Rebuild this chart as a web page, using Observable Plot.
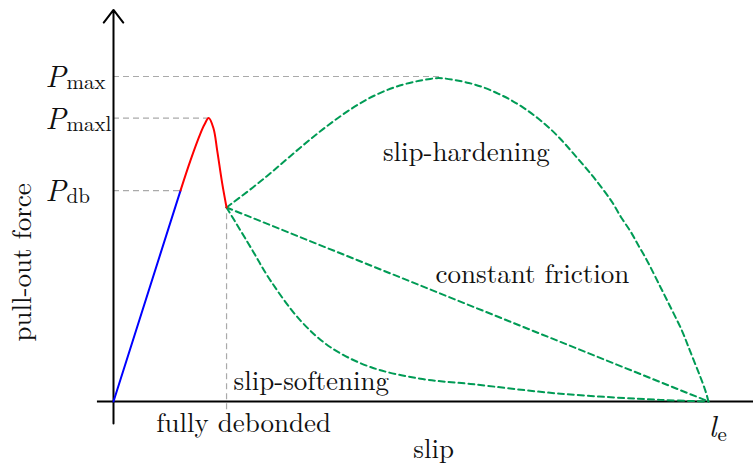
<!DOCTYPE html>
<html>
<head>
<meta charset="utf-8">
<script src="https://cdn.jsdelivr.net/npm/d3@7"></script>
<script src="https://cdn.jsdelivr.net/npm/@observablehq/plot@0.6"></script>
<style>
  html, body { margin: 0; padding: 0; background: #fff; }
  svg { display: block; }
</style>
</head>
<body>
<div id="chart"></div>
<script>
// ---- data (x: slip, y: pull-out force, arbitrary units; le = 10, Pmax = 10) ----
const elasticX = [0, 1.126];
const elasticY = [0, 6.49];

const debondX = [1.126, 1.294, 1.462, 1.529, 1.6, 1.681, 1.743, 1.827, 1.9];
const debondY = [6.49, 7.42, 8.25, 8.52, 8.72, 8.40, 7.72, 6.71, 5.97];

const hardeningX = [1.9, 2.358, 2.723, 3.131, 3.524, 3.938, 4.387, 4.891, 5.383, 5.50, 5.719, 5.971, 6.224, 6.476, 6.701, 6.924, 7.148, 7.345, 7.541, 7.709, 7.904, 8.072, 8.240, 8.408, 8.521, 8.689, 8.802, 8.941, 9.081, 9.193, 9.306, 9.417, 9.558, 9.642, 9.753, 9.866, 9.950, 10];
const hardeningY = [5.97, 6.60, 7.15, 7.806, 8.391, 8.954, 9.446, 9.794, 9.95, 9.96, 9.90, 9.81, 9.671, 9.468, 9.262, 9.006, 8.698, 8.391, 8.031, 7.671, 7.262, 6.902, 6.492, 6.083, 5.671, 5.262, 4.852, 4.440, 3.929, 3.517, 3.108, 2.698, 2.185, 1.775, 1.262, 0.748, 0.338, 0];

const frictionX = [1.9, 10];
const frictionY = [5.97, 0];

const softeningX = [1.9, 2.303, 2.639, 3.143, 3.647, 4.319, 5.160, 6.000, 7.513, 9.193, 10];
const softeningY = [5.97, 4.75, 3.72, 2.49, 1.67, 1.06, 0.70, 0.54, 0.24, 0.05, 0];

const levelNames = ["max", "maxl", "db"];
const levelY = [10, 8.72, 6.49];
const levelXEnd = [5.5, 1.6, 1.126];

const slipDebonded = 1.9;
const slipEnd = 10;

const curveLabels = ["slip-hardening", "constant friction"];
const curveLabelX = [5.93, 7.04];
const curveLabelY = [7.66, 3.91];

// ---- build tables ----
const pts = (xs, ys) => xs.map((x, i) => ({x, y: ys[i]}));
const levels = levelNames.map((n, i) => ({name: n, y: levelY[i], x2: levelXEnd[i]}));
const labels = curveLabels.map((t, i) => ({t, x: curveLabelX[i], y: curveLabelY[i]}));

const green = "#009b55";
const font = "'Latin Modern Roman', 'DejaVu Serif', serif";
const dash = "6,4";
const fs = 27;

const chart = Plot.plot({
  width: 753,
  height: 465,
  marginLeft: 113,
  marginRight: 45,
  marginTop: 76,
  marginBottom: 64,
  x: {domain: [0, 10], axis: null},
  y: {domain: [0, 10], axis: null},
  style: {fontFamily: font, background: "#fff", overflow: "visible"},
  marks: [
    // gray guide lines
    Plot.ruleY(levels, {y: "y", x1: 0, x2: "x2", stroke: "#aaa", strokeWidth: 1.2, strokeDasharray: dash}),
    Plot.ruleX([slipDebonded], {x: d => d, y1: -0.25, y2: frictionY[0], stroke: "#aaa", strokeWidth: 1.2, strokeDasharray: dash}),
    // axes
    Plot.ruleY([0], {y: d => d, x1: -0.27, x2: 10.8, stroke: "black", strokeWidth: 2}),
    Plot.arrow([0], {x1: 0, y1: -0.68, x2: 0, y2: 12.05, stroke: "black", strokeWidth: 2, headLength: 12, headAngle: 75, insetEnd: 0}),
    // curves
    Plot.line(pts(softeningX, softeningY), {x: "x", y: "y", stroke: green, strokeWidth: 2, strokeDasharray: dash, curve: "catmull-rom"}),
    Plot.line(pts(frictionX, frictionY), {x: "x", y: "y", stroke: green, strokeWidth: 2, strokeDasharray: dash}),
    Plot.line(pts(hardeningX, hardeningY), {x: "x", y: "y", stroke: green, strokeWidth: 2, strokeDasharray: dash, curve: "basis"}),
    Plot.line(pts(elasticX, elasticY), {x: "x", y: "y", stroke: "blue", strokeWidth: 2}),
    Plot.line(pts(debondX, debondY), {x: "x", y: "y", stroke: "red", strokeWidth: 2, curve: "catmull-rom"}),
    // P labels
    Plot.text(levels, {x: 0, y: "y", text: () => "P", textAnchor: "start", dx: -68, dy: 1, fontSize: 30, fontStyle: "italic", fill: "#111"}),
    Plot.text(levels, {x: 0, y: "y", text: "name", textAnchor: "start", dx: -47, dy: 6, fontSize: 21, fill: "#111"}),
    // curve labels
    Plot.text(labels, {x: "x", y: "y", text: "t", fontSize: fs, fill: "#111"}),
    Plot.text(["slip-softening"], {x: slipDebonded, y: 0, text: d => d, textAnchor: "start", dx: 7, dy: -20, fontSize: fs, fill: "#111"}),
    Plot.text(["fully debonded"], {x: slipDebonded, y: 0, text: d => d, dx: 17, dy: 22, fontSize: fs, fill: "#111"}),
    Plot.text(["slip"], {x: 5.38, y: 0, text: d => d, dy: 48, fontSize: fs, fill: "#111"}),
    Plot.text(["pull-out force"], {x: 0, y: 4.28, text: d => d, dx: -91, rotate: -90, fontSize: fs, fill: "#111"}),
    Plot.text(["l"], {x: slipEnd, y: 0, text: d => d, dx: 4, dy: 26, fontSize: 30, fontStyle: "italic", fill: "#111"}),
    Plot.text(["e"], {x: slipEnd, y: 0, text: d => d, textAnchor: "start", dx: 9, dy: 33, fontSize: 21, fill: "#111"})
  ]
});
document.getElementById("chart").appendChild(chart);
</script>
</body>
</html>
